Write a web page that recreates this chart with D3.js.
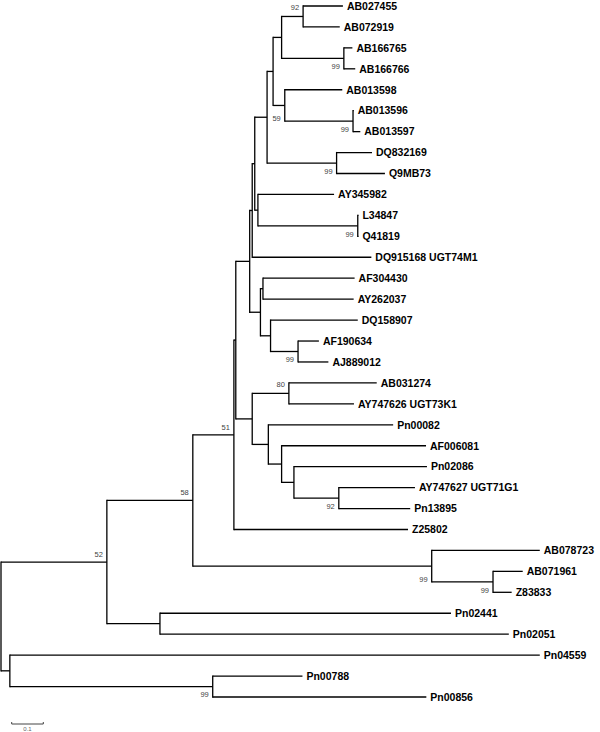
<!DOCTYPE html>
<html>
<head>
<meta charset="utf-8">
<script src="https://cdn.jsdelivr.net/npm/d3@7"></script>
<style>
  html, body { margin: 0; padding: 0; background: #fff; }
  svg { display: block; }
</style>
</head>
<body>
<svg id="chart" width="600" height="732"></svg>
<script>
// ---- DATA: branches as [node, parent, branch length] (children listed top to bottom) ----
const branches = [
  ["root", null, 0],
  ["N52", "root", 0.335],
  ["N58", "N52", 0.272],
  ["N51", "N58", 0.130],
  ["X", "N51", 0.006],
  ["P", "X", 0.044],
  ["L", "P", 0.008],
  ["K", "L", 0.008],
  ["H", "K", 0.039],
  ["F", "H", 0.019],
  ["C", "F", 0.027],
  ["A", "C", 0.068],
  ["AB027455", "A", 0.126],
  ["AB072919", "A", 0.116],
  ["B", "C", 0.197],
  ["AB166765", "B", 0.027],
  ["AB166766", "B", 0.036],
  ["E", "F", 0.037],
  ["AB013598", "E", 0.182],
  ["D", "E", 0.216],
  ["AB013596", "D", 0.002],
  ["AB013597", "D", 0.023],
  ["G", "H", 0.220],
  ["DQ832169", "G", 0.112],
  ["Q9MB73", "G", 0.153],
  ["J", "K", 0.010],
  ["AY345982", "J", 0.241],
  ["I", "J", 0.316],
  ["L34847", "I", 0.002],
  ["Q41819", "I", 0.002],
  ["DQ915168 UGT74M1", "L", 0.377],
  ["Q", "P", 0.034],
  ["Q1", "Q", 0.008],
  ["AF304430", "Q1", 0.290],
  ["AY262037", "Q1", 0.287],
  ["Q3", "Q", 0.032],
  ["DQ158907", "Q3", 0.276],
  ["Q2", "Q3", 0.087],
  ["AF190634", "Q2", 0.066],
  ["AJ889012", "Q2", 0.096],
  ["M", "X", 0.052],
  ["M1", "M", 0.116],
  ["AB031274", "M1", 0.278],
  ["AY747626 UGT73K1", "M1", 0.206],
  ["M5", "M", 0.051],
  ["Pn00082", "M5", 0.395],
  ["M4", "M5", 0.042],
  ["AF006081", "M4", 0.457],
  ["M3", "M4", 0.039],
  ["Pn02086", "M3", 0.421],
  ["M2", "M3", 0.142],
  ["AY747627 UGT71G1", "M2", 0.241],
  ["Pn13895", "M2", 0.226],
  ["Z25802", "N51", 0.551],
  ["N99a", "N58", 0.756],
  ["AB078723", "N99a", 0.342],
  ["N99b", "N99a", 0.194],
  ["AB071961", "N99b", 0.094],
  ["Z83833", "N99b", 0.059],
  ["Npn", "N52", 0.168],
  ["Pn02441", "Npn", 0.921],
  ["Pn02051", "Npn", 1.104],
  ["Nlow", "root", 0.028],
  ["Pn04559", "Nlow", 1.677],
  ["N99c", "Nlow", 0.642],
  ["Pn00788", "N99c", 0.284],
  ["Pn00856", "N99c", 0.676]
];

// bootstrap support values
const bootNodes  = ["A", "B", "E", "D", "G", "I", "Q2", "M1", "M2", "N51", "N58", "N52", "N99a", "N99b", "N99c"];
const bootValues = [92, 99, 59, 99, 99, 99, 99, 80, 92, 51, 58, 52, 99, 99, 99];
// where the value sits: at upper child, lower child, or above the node stem
const bootPlace  = ["up", "low", "low", "low", "low", "low", "low", "up", "low", "node", "node", "node", "low", "low", "low"];

const scaleBarValue = 0.1;
const scaleBarLabel = "0.1";

// ---- LAYOUT ----
const svg = d3.select("#chart");
const root = d3.stratify()
  .id(d => d[0])
  .parentId(d => d[1])(branches);

root.each(d => { d.len = d.data[2]; });
root.eachBefore(d => { d.depth2 = d.parent ? d.parent.depth2 + d.len : 0; });

const leaves = root.leaves();
const x = d3.scaleLinear().domain([0, 1]).range([1, 317]);
const y = d3.scaleLinear().domain([0, leaves.length - 1]).range([6, 697]);

leaves.forEach((l, i) => { l.yv = y(i); });
root.eachAfter(d => {
  if (d.children) {
    d.yv = (d.children[0].yv + d.children[d.children.length - 1].yv) / 2;
  }
  d.xv = x(d.depth2);
});

const g = svg.append("g")
  .attr("stroke", "#000")
  .attr("stroke-width", 1.3)
  .attr("fill", "none");

// horizontal branches
root.descendants().filter(d => d.parent).forEach(d => {
  g.append("line")
    .attr("x1", d.parent.xv).attr("x2", d.xv)
    .attr("y1", d.yv).attr("y2", d.yv);
});
// vertical connectors
root.descendants().filter(d => d.children).forEach(d => {
  g.append("line")
    .attr("x1", d.xv).attr("x2", d.xv)
    .attr("y1", d.children[0].yv - 0.65)
    .attr("y2", d.children[d.children.length - 1].yv + 0.65);
});

// leaf labels
svg.append("g")
  .selectAll("text")
  .data(leaves)
  .join("text")
  .attr("x", d => d.xv + 4)
  .attr("y", d => d.yv)
  .attr("dy", "0.36em")
  .attr("font-family", "'Liberation Sans', Arial, sans-serif")
  .attr("font-weight", "bold")
  .attr("font-size", 10.5)
  .attr("fill", "#000")
  .text(d => d.id);

// bootstrap values
const byId = new Map(root.descendants().map(d => [d.id, d]));
const bootG = svg.append("g")
  .attr("font-family", "'Liberation Sans', Arial, sans-serif")
  .attr("font-size", 7.5)
  .attr("fill", "#444")
  .attr("text-anchor", "end");
bootNodes.forEach((id, i) => {
  const n = byId.get(id);
  let ty;
  if (bootPlace[i] === "up") ty = n.children[0].yv + 1;
  else if (bootPlace[i] === "low") ty = n.children[n.children.length - 1].yv - 2.5;
  else ty = n.yv - 8;
  bootG.append("text")
    .attr("x", n.xv - 4)
    .attr("y", ty)
    .attr("dy", "0.36em")
    .text(bootValues[i]);
});

// scale bar
const sbX0 = 11.7;
const sbLen = x(scaleBarValue) - x(0);
const sbY = 724;
const sb = svg.append("g").attr("stroke", "#444").attr("stroke-width", 1);
sb.append("line").attr("x1", sbX0).attr("x2", sbX0 + sbLen).attr("y1", sbY).attr("y2", sbY);
sb.append("line").attr("x1", sbX0).attr("x2", sbX0).attr("y1", sbY - 2).attr("y2", sbY);
sb.append("line").attr("x1", sbX0 + sbLen).attr("x2", sbX0 + sbLen).attr("y1", sbY - 2).attr("y2", sbY);
svg.append("text")
  .attr("x", sbX0 + sbLen / 2)
  .attr("y", 731)
  .attr("text-anchor", "middle")
  .attr("font-family", "'Liberation Sans', Arial, sans-serif")
  .attr("font-size", 6)
  .attr("fill", "#666")
  .text(scaleBarLabel);
</script>
</body>
</html>
